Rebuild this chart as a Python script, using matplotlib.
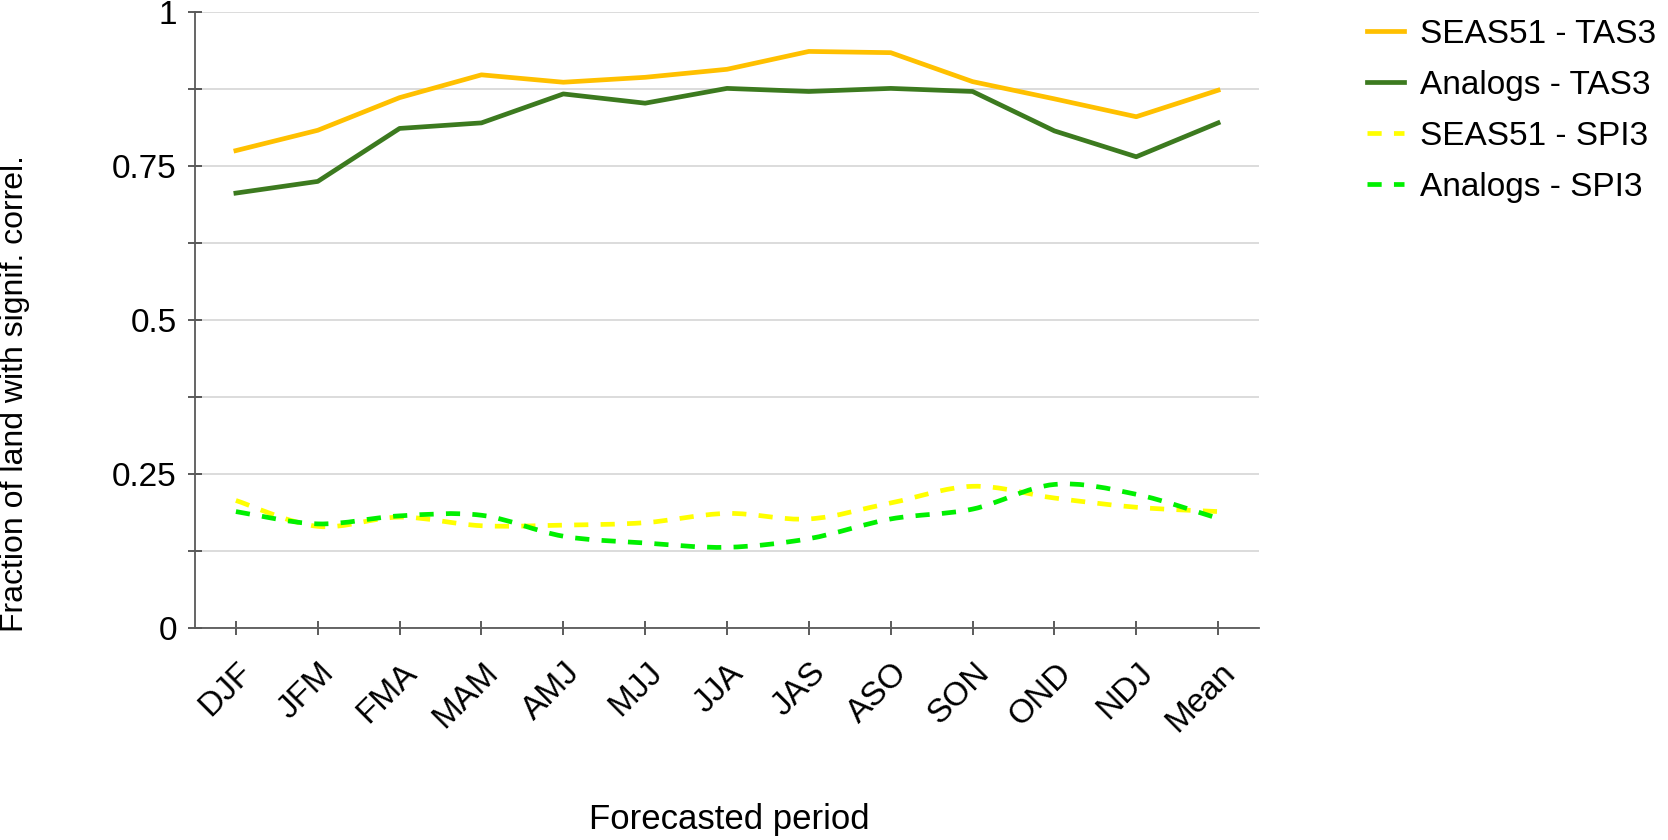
import matplotlib
matplotlib.use("Agg")
import matplotlib.pyplot as plt
from matplotlib.path import Path
from matplotlib.patches import PathPatch
from matplotlib.lines import Line2D
from matplotlib.transforms import ScaledTranslation
import numpy as np

plt.rcParams["font.family"] = ["Liberation Sans", "DejaVu Sans"]

# datos
periodos = ["DJF", "JFM", "FMA", "MAM", "AMJ", "MJJ", "JJA", "JAS", "ASO",
            "SON", "OND", "NDJ", "Mean"]
seas_tas = [0.775, 0.808, 0.861, 0.898, 0.886, 0.894, 0.907, 0.936, 0.934,
            0.887, 0.859, 0.830, 0.873]
analog_tas = [0.706, 0.725, 0.811, 0.820, 0.867, 0.852, 0.876, 0.871, 0.876,
              0.871, 0.807, 0.765, 0.820]
seas_spi = [0.207, 0.165, 0.180, 0.166, 0.167, 0.171, 0.186, 0.177, 0.203,
            0.230, 0.211, 0.196, 0.189]
analog_spi = [0.189, 0.169, 0.182, 0.183, 0.149, 0.138, 0.131, 0.145, 0.177,
              0.193, 0.233, 0.217, 0.178]

c_seas_tas = "#FFC000"
c_ana_tas = "#3C7A1F"
c_seas_spi = "#FFFF00"
c_ana_spi = "#00F000"
lw = 3.4
dash = (3.0, 2.6)


# linea suavizada (estilo excel) a partir de los puntos
def curva_suave(ax, xs, ys, color, lw):
    pts = np.column_stack([xs, ys])
    n = len(pts)
    verts = [pts[0]]
    codes = [Path.MOVETO]
    for i in range(n - 1):
        p0 = pts[i - 1] if i > 0 else pts[i]
        p1 = pts[i]
        p2 = pts[i + 1]
        p3 = pts[i + 2] if i + 2 < n else pts[i + 1]
        c1 = p1 + (p2 - p0) / 6.0
        c2 = p2 - (p3 - p1) / 6.0
        verts += [c1, c2, p2]
        codes += [Path.CURVE4] * 3
    patch = PathPatch(Path(verts, codes), fill=False, edgecolor=color,
                      linewidth=lw, linestyle=(0, dash), capstyle="butt",
                      zorder=3)
    ax.add_patch(patch)


fig = plt.figure(figsize=(16.68, 8.4), dpi=100)
ax = fig.add_axes([0.1169, 0.2524, 0.6379, 0.7333])

x = np.arange(len(periodos))
ax.plot(x, seas_tas, color=c_seas_tas, lw=lw, zorder=3)
ax.plot(x, analog_tas, color=c_ana_tas, lw=lw, zorder=3)
curva_suave(ax, x, seas_spi, c_seas_spi, lw)
curva_suave(ax, x, analog_spi, c_ana_spi, lw)

ax.set_xlim(-0.5, len(periodos) - 0.5)
ax.set_ylim(0, 1)
ax.set_yticks([0, 0.125, 0.25, 0.375, 0.5, 0.625, 0.75, 0.875, 1])
ax.set_yticklabels(["0", "", "0.25", "", "0.5", "", "0.75", "", "1"])
ax.grid(axis="y", color="#d9d9d9", lw=1.3, zorder=0)

for s in ["top", "right"]:
    ax.spines[s].set_visible(False)
for s in ["left", "bottom"]:
    ax.spines[s].set_color("#595959")
    ax.spines[s].set_linewidth(1.3)
ax.tick_params(axis="both", direction="inout", length=10, width=1.2,
               color="#404040", labelsize=24, labelcolor="black")
ax.tick_params(axis="x", pad=24)
ax.tick_params(axis="y", pad=8)

ax.set_xticks(x)
ax.set_xticklabels(periodos, rotation=45, ha="right", va="center",
                   rotation_mode="anchor")
# correr un poco las etiquetas a la derecha
desp = ScaledTranslation(0.12, 0, fig.dpi_scale_trans)
for lab in ax.get_xticklabels():
    lab.set_transform(lab.get_transform() + desp)

fig.text(15 / 1668, 1 - 394 / 840, "Fraction of land with signif. correl.",
         rotation=90, ha="center", va="center", fontsize=23)
fig.text(729 / 1668, 1 - 819 / 840, "Forecasted period",
         ha="center", va="center", fontsize=25)

handles = [
    Line2D([], [], color=c_seas_tas, lw=lw),
    Line2D([], [], color=c_ana_tas, lw=lw),
    Line2D([], [], color=c_seas_spi, lw=lw, dashes=dash),
    Line2D([], [], color=c_ana_spi, lw=lw, dashes=dash),
]
labels = ["SEAS51 - TAS3", "Analogs - TAS3", "SEAS51 - SPI3", "Analogs - SPI3"]
fig.legend(handles, labels, loc="upper left",
           bbox_to_anchor=(1367 / 1668, 1 - 19 / 840), frameon=False,
           fontsize=24, handlelength=1.11, handletextpad=0.48,
           labelspacing=0.6, borderpad=0, borderaxespad=0)

fig.savefig("out.png", dpi=100)
